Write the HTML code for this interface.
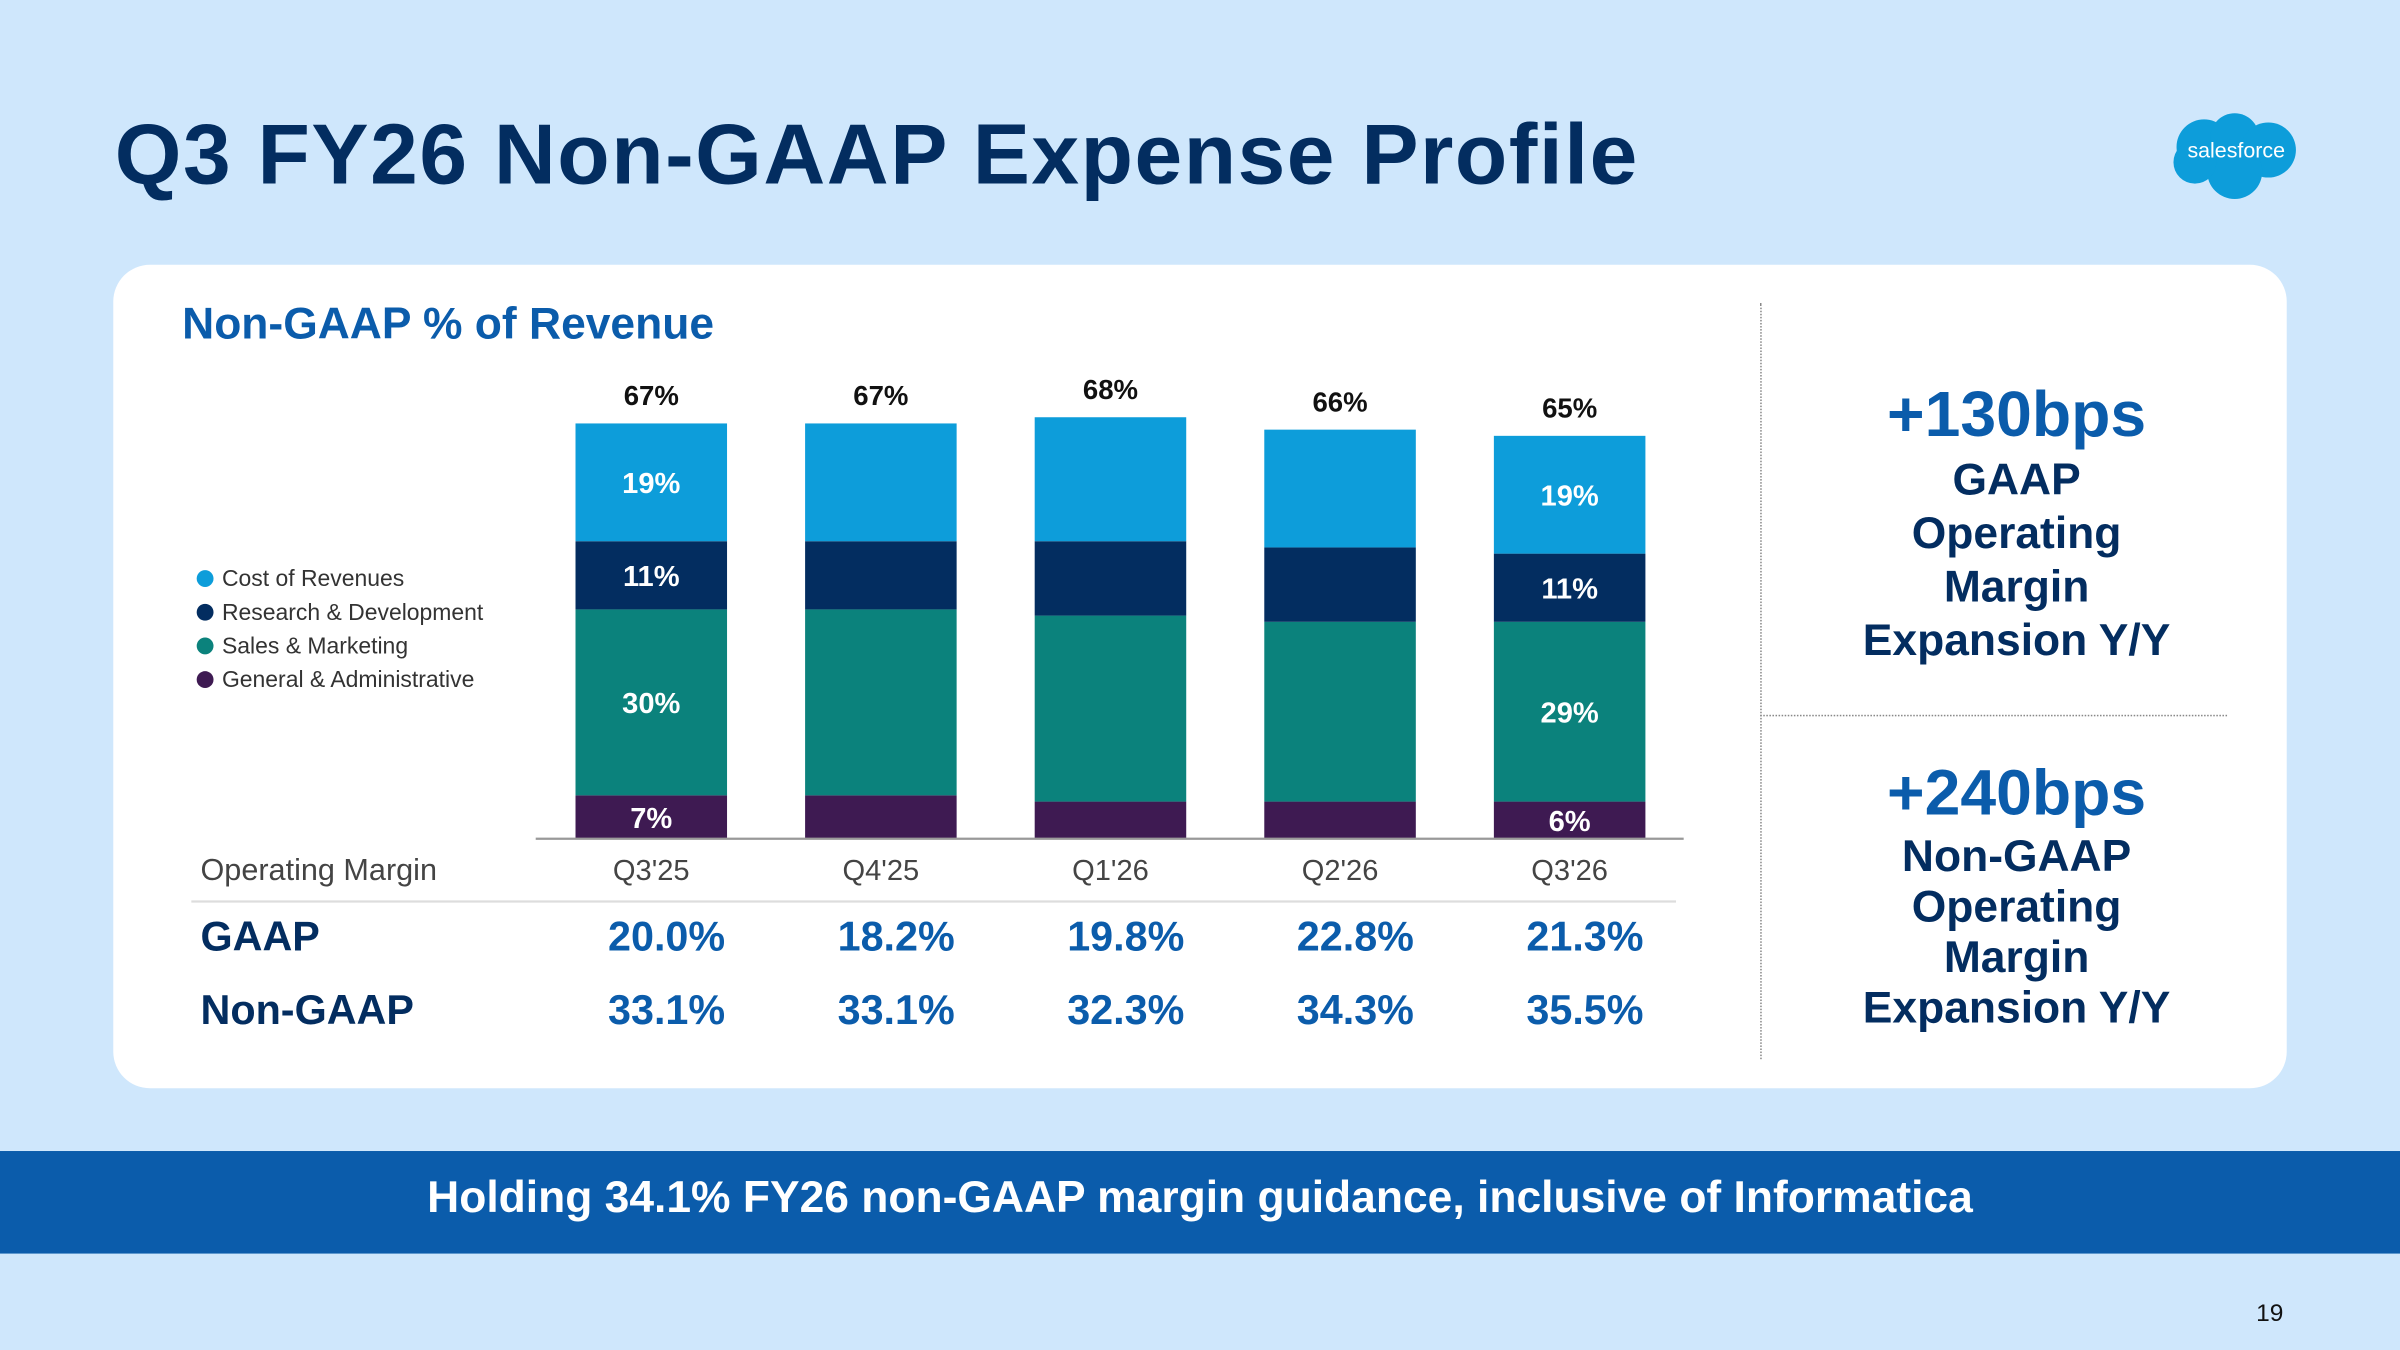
<!DOCTYPE html>
<html><head><meta charset="utf-8"><style>
html,body{margin:0;padding:0;width:2400px;height:1350px;overflow:hidden;background:#cfe7fc}
#s{position:absolute;left:0;top:0;width:1568px;height:882px;transform:scale(1.530612);transform-origin:0 0;font-family:"Liberation Sans",sans-serif}
.a{position:absolute}
</style></head><body>
<div id="s">
<div class="a" style="left:75px;top:68px;font-size:56px;font-weight:bold;color:#032d60;letter-spacing:1px">Q3 FY26 Non-GAAP Expense Profile</div>
<svg class="a" style="left:1416px;top:70px" width="88" height="62" viewBox="0 0 88 62">
<g fill="#0d9dda"><circle cx="24" cy="26" r="18"/><circle cx="44" cy="20" r="16"/><circle cx="66" cy="28" r="18"/><circle cx="44" cy="42" r="18"/><circle cx="18" cy="36" r="14"/></g>
<text x="45" y="33" text-anchor="middle" font-size="14" fill="#fff" font-family="Liberation Sans">salesforce</text></svg>
<div class="a" style="left:74px;top:173px;width:1420px;height:538px;background:#fff;border-radius:24px"></div>
<div class="a" style="left:119px;top:196px;font-size:29px;font-weight:bold;color:#0b5cab">Non-GAAP % of Revenue</div>
<div class="a" style="left:1150px;top:198px;height:494px;border-left:1px dotted #888"></div>
<div class="a" style="left:1150px;top:467px;width:305px;border-top:1px dotted #888"></div>
<div class="a" style="left:1160px;top:245px;width:315px;text-align:center;color:#032d60;font-size:29px;line-height:35px;font-weight:bold"><div style="color:#0b5cab;font-size:42px;line-height:52px">+130bps</div>GAAP<br>Operating<br>Margin<br>Expansion Y/Y</div>
<div class="a" style="left:1160px;top:492px;width:315px;text-align:center;color:#032d60;font-size:29px;line-height:33px;font-weight:bold"><div style="color:#0b5cab;font-size:42px;line-height:52px">+240bps</div>Non-GAAP<br>Operating<br>Margin<br>Expansion Y/Y</div>
<svg class="a" id="chart" style="left:0;top:0" width="1150" height="720"></svg>
<div class="a" style="left:0;top:752px;width:1568px;height:67px;background:#0b5cab;color:#fff;font-size:29px;font-weight:bold;text-align:center;line-height:62px">Holding 34.1% FY26 non-GAAP margin guidance, inclusive of Informatica</div>
<div class="a" style="left:1474px;top:850px;font-size:16px;color:#111">19</div>
</div>
<script>
const categories=["Q3'25","Q4'25","Q1'26","Q2'26","Q3'26"];
const totals=[67,67,68,66,65];
const costRev=[19,19,20,19,19];
const rnd=[11,11,12,12,11];
const snm=[30,30,30,29,29];
const gna=[7,7,6,6,6];
const gaap=["20.0%","18.2%","19.8%","22.8%","21.3%"];
const nongaap=["33.1%","33.1%","32.3%","34.3%","35.5%"];
const showSegLabels=[true,false,false,false,true];
const NS="http://www.w3.org/2000/svg";
const svg=document.getElementById('chart');
const base=548,ppu=4.05,x0=376,step=150,bw=99;
const y=v=>base-v*ppu;
const xc=i=>x0+i*step+bw/2;
function el(t,a){const e=document.createElementNS(NS,t);for(const k in a)e.setAttribute(k,a[k]);svg.appendChild(e);return e;}
function txt(x,yy,s,size,fill,weight,anchor){const e=el('text',{x:x,y:yy,'font-size':size,fill:fill,'font-weight':weight||'normal','text-anchor':anchor||'middle','font-family':'Liberation Sans, sans-serif'});e.textContent=s;return e;}
const series=[{d:gna,c:"#3e1a52",n:"General & Administrative"},{d:snm,c:"#0b827c",n:"Sales & Marketing"},{d:rnd,c:"#032d60",n:"Research & Development"},{d:costRev,c:"#0d9dda",n:"Cost of Revenues"}];
categories.forEach((cat,i)=>{
  let cum=0;
  series.forEach(s=>{
    const v=s.d[i];
    const r=el('rect',{x:x0+i*step,y:y(cum+v),width:bw,height:v*ppu,fill:s.c});
    
    
    if(showSegLabels[i]){const t=txt(xc(i),y(cum+v/2)+7,v+'%',19,'#fff','bold');
      
      }
    cum+=v;
  });
  const tt=txt(xc(i),y(totals[i])-12,totals[i]+'%',18,'#111','bold');
  
  
  const c=txt(xc(i),575,cat,19,'#444');
  
  
  const g=txt(xc(i)+10,621,gaap[i],27,'#0b5cab','bold');
  
  
  const n=txt(xc(i)+10,669,nongaap[i],27,'#0b5cab','bold');
  
  
});
const ax=el('line',{x1:350,x2:1100,y1:548,y2:548,stroke:'#999','stroke-width':1.5});


const sep=el('line',{x1:125,x2:1095,y1:589,y2:589,stroke:'#ddd','stroke-width':1.5});


[["Operating Margin",575,20,'#444','normal'],["GAAP",621,27,'#032d60','bold'],["Non-GAAP",669,27,'#032d60','bold']].forEach(r=>{
  const t=txt(131,r[1],r[0],r[2],r[3],r[4],'start');
  
  
});
series.slice().reverse().forEach((s,k)=>{
  const c=el('circle',{cx:134,cy:378+k*22,r:5.5,fill:s.c});
  
  
  const t=txt(145,383+k*22,s.n,15,'#333','normal','start');
  
  
});
</script>
</body></html>
